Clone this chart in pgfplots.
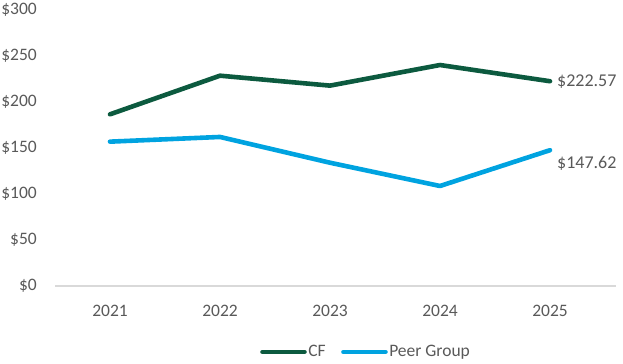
\documentclass[border=0pt]{standalone}
\usepackage{pgfplots}
\pgfplotsset{compat=1.18}
\usepackage{fontspec}
\setmainfont{Carlito}
\definecolor{cfgreen}{HTML}{0C5A3F}
\definecolor{peerblue}{HTML}{00A3E0}
\definecolor{txtgray}{HTML}{595959}
\definecolor{axgray}{HTML}{D9D9D9}
\begin{document}
\begin{tikzpicture}
\path[use as bounding box] (-55bp,-78bp) rectangle (568bp,286bp);
\begin{axis}[
  at={(0,0)}, anchor=south west,
  scale only axis,
  width=561bp, height=276bp,
  xmin=-0.5, xmax=4.6,
  ymin=0, ymax=300,
  xtick={0,1,2,3,4},
  xticklabels={2021,2022,2023,2024,2025},
  ytick={0,50,100,150,200,250,300},
  yticklabels={\$0,\$50,\$100,\$150,\$200,\$250,\$300},
  axis y line*=left,
  y axis line style={draw=none},
  axis x line*=bottom,
  x axis line style={draw=axgray, line width=1.2bp, -},
  major tick length=0pt,
  every tick label/.append style={font=\fontsize{17.5bp}{20bp}\selectfont, text=txtgray, inner sep=0pt},
  yticklabel style={anchor=east, xshift=-18bp},
  xticklabel style={anchor=base, yshift=-30bp},
  clip=false,
  legend columns=2,
  legend style={at={(0.554,-0.239)}, anchor=center, draw=none, fill=none,
    font=\fontsize{17.5bp}{20bp}\selectfont, text=txtgray,
    /tikz/every even column/.append style={column sep=14bp},
    inner sep=0pt, nodes={inner sep=1.5bp}},
  legend image code/.code={\draw[#1, line cap=round] (0bp,0bp) -- (42bp,0bp);},
]
\addplot[cfgreen, line width=4.6bp, line cap=round, line join=round] coordinates {
  (0,186.6) (1,228.6) (2,217.8) (3,240.2) (4,222.57)};
\addlegendentry{CF}
\addplot[peerblue, line width=4.6bp, line cap=round, line join=round] coordinates {
  (0,156.9) (1,162.0) (2,134.0) (3,108.7) (4,147.62)};
\addlegendentry{Peer Group}
\node[anchor=west, text=txtgray, font=\fontsize{18bp}{20bp}\selectfont, inner sep=0pt, xshift=7bp] at (axis cs:4,222.57) {\$222.57};
\node[anchor=west, text=txtgray, font=\fontsize{18bp}{20bp}\selectfont, inner sep=0pt, xshift=7bp, yshift=-13bp] at (axis cs:4,147.62) {\$147.62};
\end{axis}
\end{tikzpicture}
\end{document}
